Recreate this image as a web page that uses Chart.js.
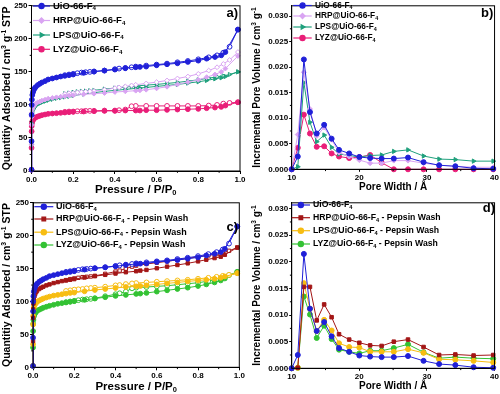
<!DOCTYPE html>
<html>
<head>
<meta charset="utf-8">
<script src="https://cdn.jsdelivr.net/npm/chart.js@4.4.0/dist/chart.umd.min.js"></script>
<style>
  body { margin: 0; background: #fff; }
  .panel { position: absolute; width: 250px; height: 197px; }
</style>
</head>
<body>
<div class="panel" style="left:0;top:0"><canvas id="chartA" width="250" height="197"></canvas></div>
<div class="panel" style="left:250px;top:0"><canvas id="chartB" width="250" height="197"></canvas></div>
<div class="panel" style="left:0;top:197px"><canvas id="chartC" width="250" height="197"></canvas></div>
<div class="panel" style="left:250px;top:197px"><canvas id="chartD" width="250" height="197"></canvas></div>
<script>
// ---- isotherm data (relative pressure P/P0, quantity adsorbed cm3/g STP) ----
const pAds = [0.0001, 0.0003, 0.0006, 0.001, 0.002, 0.004, 0.007, 0.01, 0.015, 0.02, 0.03, 0.04, 0.05, 0.065, 0.08, 0.1, 0.12, 0.14, 0.16, 0.18, 0.2, 0.25, 0.3, 0.35, 0.4, 0.45, 0.5, 0.52, 0.55, 0.6, 0.65, 0.7, 0.75, 0.8, 0.84, 0.88, 0.91, 0.93, 0.99];
const pDes = [0.99, 0.95, 0.92, 0.89, 0.85, 0.8, 0.75, 0.7, 0.65, 0.6, 0.55, 0.5, 0.48, 0.45, 0.42, 0.4, 0.35, 0.3, 0.28, 0.26, 0.24, 0.22, 0.2, 0.18, 0.16];

const uioAds = [2, 45, 85, 100, 108, 115, 119, 122, 125, 127, 130, 132, 134, 136, 138.5, 140, 141.5, 143, 144, 145, 146, 148.5, 150.5, 152, 153.5, 155.5, 157, 157.5, 158, 160, 161.5, 163, 165, 167, 170, 172.5, 175, 180, 214];
const uioDes = [214, 188, 179, 175, 172, 169, 166.5, 164.5, 162.5, 161, 159.5, 158, 157, 156, 155, 154, 152, 150.5, 150, 149.5, 149, 148, 147, 146, 145];

const hrpAds = [2, 40, 70, 82, 88, 93, 96, 98, 100, 102, 104, 105, 106.5, 108, 109.5, 110.5, 111.5, 112.5, 113, 114, 114.5, 116, 117, 118, 119.5, 120.5, 121.5, 122, 123, 125, 127.5, 131, 134.5, 138, 142, 146, 150, 155, 174];
const hrpDes = [180, 168, 162, 157, 152, 147, 143, 140, 137, 134.5, 132.5, 130.5, 129.5, 128, 126.5, 125.5, 123, 121, 120.5, 120, 119.5, 119, 118, 117.5, 116.5];

const lpsAds = [2, 40, 72, 84, 88, 91, 93, 95, 97, 99, 101, 102.5, 104, 105.5, 107, 108.5, 110, 111, 112, 113, 114, 116.5, 118.5, 120.5, 122, 123.5, 125, 125.5, 126.5, 128, 129.5, 131, 133, 135, 137, 139.5, 141, 143, 150];
const lpsDes = [150, 146, 144, 142.5, 140.5, 138, 136, 134, 132.5, 131, 130, 128.5, 128, 127, 126, 125.5, 124, 122, 121.5, 121, 120.5, 120, 119, 118, 117];

const lyzAds = [2, 35, 60, 68, 72, 75, 77, 78.5, 80, 81, 82.5, 83.5, 84.5, 85.5, 86.5, 87, 87.5, 88, 88.5, 89, 89.5, 90, 90.5, 91, 91, 91.5, 91.5, 91.5, 92, 92, 92.5, 93, 93.5, 94, 95, 96, 97, 99, 104];
const lyzDes = [104, 103, 102, 100, 99, 98.5, 98.5, 98.5, 98.5, 98.5, 98.5, 98.5, 98, 93, 92, 91.5, 91.5, 91, 91, 91, 90.5, 90.5, 90, 90, 89.5];

const hrpPepAds = [2, 40, 75, 88, 97, 104, 108, 111, 114, 116.5, 119, 121, 122.5, 124.5, 126, 128, 129.5, 131, 132, 133, 134, 136.5, 138.5, 140.5, 142.5, 144.5, 146, 147, 148, 150.5, 153, 155.5, 158, 161, 163.5, 166, 168, 171, 182];
const hrpPepDes = [182, 177, 174, 172, 170, 168, 165.5, 163.5, 161, 159, 157, 154.5, 153, 150, 147, 145.5, 142, 139, 138, 137.5, 137, 136, 135, 134, 132.5];

const lpsPepAds = [2, 35, 65, 78, 86, 91, 94, 96, 98, 99.5, 101.5, 103, 104.5, 106, 107.5, 109, 110, 111, 112, 113, 113.5, 115.5, 117.5, 119, 120.5, 122, 123, 123.5, 124.5, 126, 127.5, 129, 130.5, 132, 133, 134.5, 136, 138, 143];
const lpsPepDes = [143, 140.5, 139, 137.5, 136, 134.5, 133, 132, 131, 130, 129, 128, 127.5, 126.5, 125, 124.5, 122.5, 121, 120.5, 120, 119, 118.5, 118, 117, 116];

const lyzPepAds = [2, 30, 55, 66, 72, 77, 80, 82, 84, 86, 87.5, 89, 90.5, 92, 93.5, 95, 96.5, 97.5, 98.5, 99.5, 100.5, 102.5, 104.5, 106.5, 108.5, 110, 111.5, 112, 113, 115, 117, 119, 121, 123.5, 126, 129, 132, 135, 145];
const lyzPepDes = [145, 140, 137, 134, 131, 128.5, 127, 125.5, 124, 123, 122, 121, 120, 115, 112.5, 111, 108, 105, 104, 103.5, 103, 102, 101, 100, 99];

// ---- pore size distribution (pore width in A, incremental pore volume cm3/g) ----
const poreWidth = [10.0, 10.9, 11.8, 12.7, 13.7, 14.8, 15.9, 17.0, 18.5, 20.0, 21.6, 23.3, 25.1, 27.2, 29.5, 31.8, 34.2, 36.9, 39.8];
const uioPore = [0, 0.0025, 0.0215, 0.0112, 0.0070, 0.0087, 0.0060, 0.0038, 0.0031, 0.0024, 0.0022, 0.0021, 0.0021, 0.0023, 0.0014, 0.0008, 0.0006, 0.0002, 0.0001];
const hrpPore = [0, 0.0068, 0.0190, 0.0118, 0.0065, 0.0082, 0.0058, 0.0033, 0.0025, 0.0018, 0.0012, 0.0012, 0.0017, 0.0017, 0.0012, 0.0008, 0.0006, 0.0004, 0.0004];
const lpsPore = [0, 0.0005, 0.0170, 0.0092, 0.0054, 0.0067, 0.0043, 0.0030, 0.0027, 0.0024, 0.0027, 0.0028, 0.0035, 0.0038, 0.0026, 0.0020, 0.0019, 0.0016, 0.0016];
const lyzPore = [0, 0.0042, 0.0107, 0.0070, 0.0044, 0.0045, 0.0031, 0.0025, 0.0022, 0.0024, 0.0028, 0.0013, 0, 0, 0, 0, 0, 0, 0];
const hrpPepPore = [0, 0.0001, 0.0153, 0.0153, 0.0090, 0.0120, 0.0096, 0.0064, 0.0054, 0.0048, 0.0043, 0.0042, 0.0050, 0.0054, 0.0040, 0.0025, 0.0026, 0.0024, 0.0025];
const lpsPepPore = [0, 0.0001, 0.0160, 0.0112, 0.0070, 0.0091, 0.0071, 0.0047, 0.0040, 0.0039, 0.0031, 0.0031, 0.0031, 0.0036, 0.0029, 0.0017, 0.0016, 0.0014, 0.0011];
const lyzPepPore = [0, 0.0001, 0.0135, 0.0101, 0.0057, 0.0080, 0.0055, 0.0035, 0.0031, 0.0028, 0.0033, 0.0033, 0.0038, 0.0045, 0.0030, 0.0019, 0.0021, 0.0019, 0.0018];

// ---- tick labels ----
const pressureTicks = [0, 0.2, 0.4, 0.6, 0.8, 1.0];
const quantityTicks = [0, 50, 100, 150, 200, 250];
const poreTicks = [10, 20, 30, 40];
const volumeTicks = [0, 0.005, 0.010, 0.015, 0.020, 0.025, 0.030];

const BLUE = "#2020d8";
const VIOLET = "#d9a4f2";
const TEAL = "#1fa07c";
const PINK = "#e91e78";
const DARKRED = "#a31616";
const YELLOW = "#f7bd12";
const GREEN = "#33c233";

const FONT = "Arial, 'Liberation Sans', sans-serif";
Chart.defaults.font.family = FONT;
Chart.defaults.font.weight = "bold";
Chart.defaults.color = "#000";

function toXY(xs, ys) {
  return xs.map((x, i) => ({ x: x, y: ys[i] }));
}

function series(xs, ys, color, shape, open, radius) {
  return {
    data: toXY(xs, ys),
    showLine: true,
    borderColor: color,
    borderWidth: 1,
    backgroundColor: open ? "#fff" : color,
    pointBorderColor: color,
    pointBackgroundColor: open ? "#fff" : color,
    pointBorderWidth: 1,
    pointStyle: shape,
    pointRotation: shape === "triangle" ? 90 : 0,
    pointRadius: radius || 2.4,
    tension: 0,
    clip: false,
  };
}

// text with sub/superscripts: parts = [[text, "", "sub" or "sup"], ...]
function richWidth(ctx, parts, size) {
  let w = 0;
  parts.forEach((p) => {
    const s = p[1] ? size * 0.65 : size;
    ctx.font = "bold " + s + "px " + FONT;
    w += ctx.measureText(p[0]).width;
  });
  return w;
}

function drawRich(ctx, parts, x, y, size) {
  ctx.textBaseline = "middle";
  ctx.textAlign = "left";
  parts.forEach((p) => {
    let s = size, dy = 0;
    if (p[1] === "sub") { s = size * 0.65; dy = size * 0.28; }
    if (p[1] === "sup") { s = size * 0.65; dy = -size * 0.32; }
    ctx.font = "bold " + s + "px " + FONT;
    ctx.fillText(p[0], x, y + dy);
    x += ctx.measureText(p[0]).width;
  });
}

function panelPlugin(cfg) {
  return {
    id: "panel",
    afterDraw(chart) {
      const ctx = chart.ctx;
      const a = chart.chartArea;
      const xs = chart.scales.x, ys = chart.scales.y;
      ctx.save();
      ctx.strokeStyle = "#000";
      ctx.fillStyle = "#000";
      ctx.lineWidth = 1;
      ctx.strokeRect(a.left, a.top, a.right - a.left, a.bottom - a.top);

      // minor ticks halfway between the major ones
      ctx.beginPath();
      for (let i = 0; i < cfg.xTicks.length - 1; i++) {
        const px = xs.getPixelForValue((cfg.xTicks[i] + cfg.xTicks[i + 1]) / 2);
        ctx.moveTo(px, a.bottom); ctx.lineTo(px, a.bottom + 1.8);
      }
      for (let i = 0; i < cfg.yTicks.length - 1; i++) {
        const py = ys.getPixelForValue((cfg.yTicks[i] + cfg.yTicks[i + 1]) / 2);
        ctx.moveTo(a.left, py); ctx.lineTo(a.left - 1.8, py);
      }
      ctx.stroke();

      // axis titles
      ctx.fillStyle = "#000";
      const xw = richWidth(ctx, cfg.xTitle, cfg.xTitleSize);
      drawRich(ctx, cfg.xTitle, (a.left + a.right) / 2 - xw / 2, cfg.xTitleY, cfg.xTitleSize);
      const yw = richWidth(ctx, cfg.yTitle, cfg.yTitleSize);
      ctx.save();
      ctx.translate(cfg.yTitleX, (a.top + a.bottom) / 2);
      ctx.rotate(-Math.PI / 2);
      drawRich(ctx, cfg.yTitle, -yw / 2, 0, cfg.yTitleSize);
      ctx.restore();

      // legend inside the plot
      cfg.legend.forEach((item, i) => {
        const y = cfg.legendRows[i];
        ctx.strokeStyle = item.color;
        ctx.lineWidth = 1.2;
        ctx.beginPath();
        ctx.moveTo(cfg.legendLine[0], y);
        ctx.lineTo(cfg.legendLine[1], y);
        ctx.stroke();
        ctx.fillStyle = item.color;
        Chart.helpers.drawPoint(ctx, {
          pointStyle: item.shape,
          rotation: item.shape === "triangle" ? 90 : 0,
          radius: 2.6,
          borderWidth: 1,
        }, (cfg.legendLine[0] + cfg.legendLine[1]) / 2, y);
        ctx.fillStyle = "#000";
        drawRich(ctx, item.text, cfg.legendText, y, cfg.legendSize);
      });

      // panel letter
      ctx.fillStyle = "#000";
      ctx.font = "bold 13px " + FONT;
      ctx.textAlign = "right";
      ctx.textBaseline = "middle";
      ctx.fillText(cfg.label, cfg.labelX, cfg.labelY);
      ctx.restore();
    },
  };
}

function axis(ticksArr, min, max, fmt, tickLen) {
  return {
    type: "linear",
    min: min,
    max: max,
    afterBuildTicks: (s) => { s.ticks = ticksArr.map((v) => ({ value: v })); },
    ticks: {
      font: { size: 8, weight: "bold" },
      color: "#000",
      padding: 1,
      maxRotation: 0,
      autoSkip: false,
      includeBounds: false,
      callback: fmt,
    },
    grid: { drawOnChartArea: false, drawTicks: true, tickLength: tickLen, color: "#000", tickWidth: 1 },
    border: { display: true, color: "#000", width: 1 },
  };
}

function makeChart(id, datasets, box, xAxis, yAxis, cfg) {
  xAxis.afterFit = (s) => { s.height = 197 - box.bottom; };
  yAxis.afterFit = (s) => { s.width = box.left; };
  return new Chart(document.getElementById(id), {
    type: "scatter",
    data: { datasets: datasets },
    options: {
      responsive: false,
      animation: false,
      events: [],
      layout: { autoPadding: false, padding: { top: box.top, right: 250 - box.right, left: 0, bottom: 0 } },
      plugins: { legend: { display: false }, tooltip: { enabled: false } },
      scales: { x: xAxis, y: yAxis },
    },
    plugins: [panelPlugin(cfg)],
  });
}

const F4 = (pre, post) => [[pre + "UiO-66-F", ""], ["4", "sub"]].concat(post ? [[post, ""]] : []);
const isoTitleX = [["Pressure / P/P", ""], ["0", "sub"]];
const isoTitleY = [["Quantitiy Adsorbed / cm", ""], ["3", "sup"], [" g", ""], ["-1", "sup"], [" STP", ""]];
const poreTitleX = [["Pore Width / \u00c5", ""]];
const poreTitleY = [["Incremental Pore Volume / cm", ""], ["3", "sup"], [" g", ""], ["-1", "sup"]];

const fmtP = (v) => v.toFixed(1);
const fmtQ = (v) => String(v);
const fmtW = (v) => String(v);
const fmtV = (v) => v.toFixed(3);

// ---- a) isotherms ----
makeChart("chartA", [
  series(pAds, uioAds, BLUE, "circle", false),
  series(pDes, uioDes, BLUE, "circle", true),
  series(pAds, hrpAds, VIOLET, "rectRot", false),
  series(pDes, hrpDes, VIOLET, "rectRot", true),
  series(pAds, lpsAds, TEAL, "triangle", false),
  series(pDes, lpsDes, TEAL, "triangle", true),
  series(pAds, lyzAds, PINK, "circle", false),
  series(pDes, lyzDes, PINK, "circle", true),
], { left: 31.5, top: 4.5, right: 240, bottom: 171 },
  axis(pressureTicks, 0, 1, fmtP, 3),
  axis(quantityTicks, 0, 250, fmtQ, 3),
  {
    xTicks: pressureTicks, yTicks: quantityTicks,
    xTitle: isoTitleX, xTitleSize: 11.5, xTitleY: 190,
    yTitle: isoTitleY, yTitleSize: 10.5, yTitleX: 7.5,
    legend: [
      { text: F4("", ""), color: BLUE, shape: "circle" },
      { text: F4("HRP@", ""), color: VIOLET, shape: "rectRot" },
      { text: F4("LPS@", ""), color: TEAL, shape: "triangle" },
      { text: F4("LYZ@", ""), color: PINK, shape: "circle" },
    ],
    legendRows: [6, 20.5, 35, 49.3], legendLine: [33, 50], legendText: 53, legendSize: 9.5,
    label: "a)", labelX: 238, labelY: 13,
  });

// ---- b) pore size distribution ----
makeChart("chartB", [
  series(poreWidth, uioPore, BLUE, "circle", false, 2.5),
  series(poreWidth, hrpPore, VIOLET, "rectRot", false, 2.5),
  series(poreWidth, lpsPore, TEAL, "triangle", false, 2.5),
  series(poreWidth, lyzPore, PINK, "circle", false, 2.5),
], { left: 41.7, top: 4.7, right: 245, bottom: 169.3 },
  axis(poreTicks, 10, 40, fmtW, 2.5),
  axis(volumeTicks, 0, 0.032, fmtV, 2.5),
  {
    xTicks: poreTicks, yTicks: volumeTicks,
    xTitle: poreTitleX, xTitleSize: 10, xTitleY: 187.7,
    yTitle: poreTitleY, yTitleSize: 10, yTitleX: 7.5,
    legend: [
      { text: F4("", ""), color: BLUE, shape: "circle" },
      { text: F4("HRP@", ""), color: VIOLET, shape: "rectRot" },
      { text: F4("LPS@", ""), color: TEAL, shape: "triangle" },
      { text: F4("LYZ@", ""), color: PINK, shape: "circle" },
    ],
    legendRows: [5.5, 16, 27, 38], legendLine: [43.3, 61.7], legendText: 65, legendSize: 8.3,
    label: "b)", labelX: 243.3, labelY: 13.3,
  });

// ---- c) isotherms after pepsin wash ----
makeChart("chartC", [
  series(pAds, uioAds, BLUE, "circle", false),
  series(pDes, uioDes, BLUE, "circle", true),
  series(pAds, hrpPepAds, DARKRED, "rect", false),
  series(pDes, hrpPepDes, DARKRED, "rect", true),
  series(pAds, lpsPepAds, YELLOW, "circle", false),
  series(pDes, lpsPepDes, YELLOW, "circle", true),
  series(pAds, lyzPepAds, GREEN, "circle", false),
  series(pDes, lyzPepDes, GREEN, "circle", true),
], { left: 33, top: 3.7, right: 239.3, bottom: 170.3 },
  axis(pressureTicks, 0, 1, fmtP, 3),
  axis(quantityTicks, 0, 250, fmtQ, 3),
  {
    xTicks: pressureTicks, yTicks: quantityTicks,
    xTitle: isoTitleX, xTitleSize: 11.5, xTitleY: 189.7,
    yTitle: isoTitleY, yTitleSize: 10.5, yTitleX: 7.5,
    legend: [
      { text: F4("", ""), color: BLUE, shape: "circle" },
      { text: F4("HRP@", " - Pepsin Wash"), color: DARKRED, shape: "rect" },
      { text: F4("LPS@", " - Pepsin Wash"), color: YELLOW, shape: "circle" },
      { text: F4("LYZ@", " - Pepsin Wash"), color: GREEN, shape: "circle" },
    ],
    legendRows: [9.7, 22, 35.2, 48], legendLine: [34.3, 53.3], legendText: 56, legendSize: 9,
    label: "c)", labelX: 238, labelY: 30.7,
  });

// ---- d) pore size distribution after pepsin wash ----
makeChart("chartD", [
  series(poreWidth, uioPore, BLUE, "circle", false, 2.5),
  series(poreWidth, hrpPepPore, DARKRED, "rect", false, 2.5),
  series(poreWidth, lpsPepPore, YELLOW, "circle", false, 2.5),
  series(poreWidth, lyzPepPore, GREEN, "circle", false, 2.5),
], { left: 41.7, top: 2, right: 246, bottom: 171.3 },
  axis(poreTicks, 10, 40, fmtW, 2.5),
  axis(volumeTicks, 0, 0.0311, fmtV, 2.5),
  {
    xTicks: poreTicks, yTicks: volumeTicks,
    xTitle: poreTitleX, xTitleSize: 10, xTitleY: 189,
    yTitle: poreTitleY, yTitleSize: 10, yTitleX: 7.5,
    legend: [
      { text: F4("", ""), color: BLUE, shape: "circle" },
      { text: F4("HRP@", " - Pepsin Wash"), color: DARKRED, shape: "rect" },
      { text: F4("LPS@", " - Pepsin Wash"), color: YELLOW, shape: "circle" },
      { text: F4("LYZ@", " - Pepsin Wash"), color: GREEN, shape: "circle" },
    ],
    legendRows: [8, 20.7, 33.7, 47], legendLine: [41.7, 60], legendText: 63, legendSize: 8.7,
    label: "d)", labelX: 245, labelY: 11.3,
  });
</script>
</body>
</html>
